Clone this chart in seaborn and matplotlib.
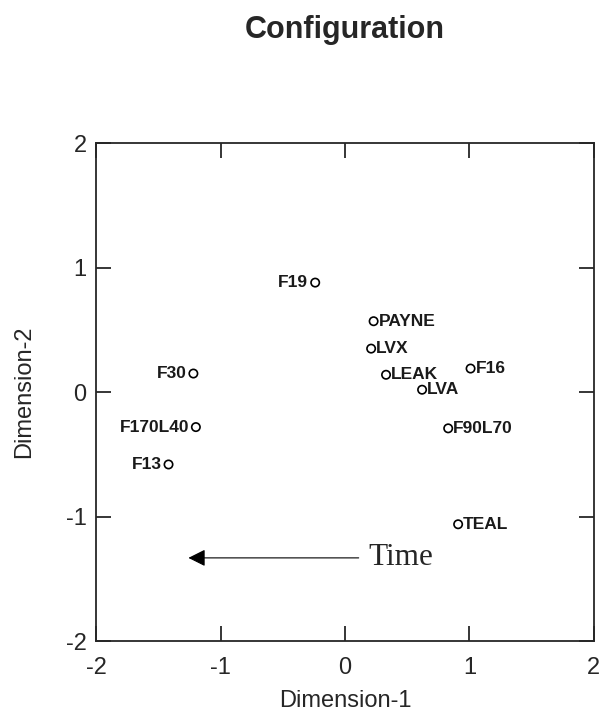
"""MDS configuration plot with labelled points and a time arrow."""

import matplotlib
matplotlib.use("Agg")
import matplotlib.pyplot as plt
import pandas as pd
import seaborn as sns

# point labels and their coordinates
names = ["F19", "PAYNE", "LVX", "LEAK", "LVA", "F16", "F90L70", "TEAL",
         "F30", "F170L40", "F13"]
dim1 = [-0.24, 0.23, 0.21, 0.33, 0.62, 1.01, 0.83, 0.91, -1.22, -1.20, -1.42]
dim2 = [0.88, 0.57, 0.35, 0.14, 0.02, 0.19, -0.29, -1.06, 0.15, -0.28, -0.58]

ticks = [-2, -1, 0, 1, 2]
arrow_start = (0.11, -1.33)
arrow_end = (-1.26, -1.33)

df = pd.DataFrame({"name": names, "Dimension-1": dim1, "Dimension-2": dim2})

sns.set_style("ticks")
plt.rcParams["font.family"] = ["Liberation Sans", "DejaVu Sans"]
plt.rcParams["axes.unicode_minus"] = False

fig = plt.figure(figsize=(5.99, 7.19), dpi=100)
ax = fig.add_axes([0.161, 0.108, 0.830, 0.693])

sns.scatterplot(data=df, x="Dimension-1", y="Dimension-2", ax=ax,
                marker="o", s=36, facecolor="none", edgecolor="black",
                linewidth=1.2, legend=False)

for _, row in df.iterrows():
    left = row["Dimension-1"] < 0
    ax.annotate(row["name"], (row["Dimension-1"], row["Dimension-2"]),
                xytext=(-5 if left else 3.5, 0), textcoords="offset points",
                ha="right" if left else "left", va="center",
                fontsize=12.5, fontweight="bold", color="#1a1a1a")

ax.annotate("", xy=arrow_end, xytext=arrow_start,
            arrowprops=dict(arrowstyle="-|>", color="black", lw=0.8,
                            mutation_scale=26, shrinkA=0, shrinkB=0))
ax.text(arrow_start[0] + 0.08, arrow_start[1], "Time", family="Liberation Serif",
        fontsize=22.5, ha="left", va="center")

ax.set_xlim(-2, 2)
ax.set_ylim(-2, 2)
ax.set_xticks(ticks)
ax.set_yticks(ticks)
ax.tick_params(direction="in", length=11, width=1.3, top=True, right=True,
               labelsize=17, pad=7)
ax.tick_params(axis="x", pad=11)
for sp in ax.spines.values():
    sp.set_linewidth(1.3)
ax.set_xlabel("Dimension-1", fontsize=17, labelpad=8)
ax.set_ylabel("Dimension-2", fontsize=17, labelpad=22)

fig.text(0.576, 0.958, "Configuration", ha="center", va="center",
         fontsize=22, fontweight="bold")

fig.savefig("out.png", dpi=100)
